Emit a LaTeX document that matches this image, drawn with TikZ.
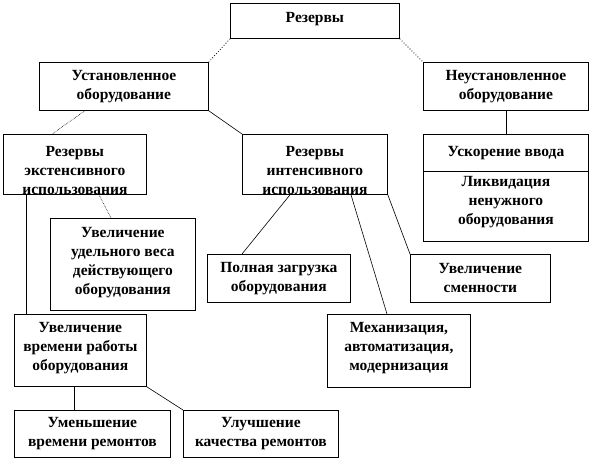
\documentclass[tikz,border=0pt]{standalone}
\usepackage{fontspec}
\setmainfont{Liberation Serif}
\usetikzlibrary{calc}
\begin{document}
\begin{tikzpicture}[x=1pt,y=-1pt,
  box/.style={draw, line width=0.8pt, anchor=north west, inner sep=0pt},
  txt/.style={align=center, font=\fontsize{15.5}{19}\selectfont\bfseries, inner sep=0pt},
  link/.style={line width=0.6pt},
  dotlink/.style={line width=0.8pt, dotted},
  ddlink/.style={line width=0.6pt, densely dotted}]
\useasboundingbox (0,0) rectangle (594,461);
% boxes
\node[box, minimum width=169pt, minimum height=35pt] (rez) at (230,3) {};
\node[box, minimum width=169pt, minimum height=48pt] (ust) at (39,62) {};
\node[box, minimum width=165pt, minimum height=48pt] (neust) at (423,62) {};
\node[box, minimum width=143pt, minimum height=60pt] (ext) at (3,134) {};
\node[box, minimum width=145pt, minimum height=60pt] (int) at (242,134) {};
\node[box, minimum width=165pt, minimum height=37pt] (usk) at (423,134) {};
\node[box, minimum width=165pt, minimum height=70pt] (likv) at (423,171) {};
\node[box, minimum width=145pt, minimum height=92pt] (ud) at (50,218) {};
\node[box, minimum width=143pt, minimum height=48pt] (pol) at (207,254) {};
\node[box, minimum width=140pt, minimum height=48pt] (smen) at (410,254) {};
\node[box, minimum width=143pt, minimum height=73pt] (mech) at (327,314) {};
\node[box, minimum width=132pt, minimum height=72pt] (uvr) at (14,314) {};
\node[box, minimum width=156pt, minimum height=47pt] (umen) at (14,410) {};
\node[box, minimum width=155pt, minimum height=47pt] (ulu) at (183,410) {};
% texts
\node[txt] (rez-t) at ([yshift=2pt]rez.center) {Резервы};
\node[txt] (ust-t) at (ust.center) {Установленное\\оборудование};
\node[txt] (neust-t) at (neust.center) {Неустановленное\\оборудование};
\begin{scope}
  \clip (ext.north west) rectangle (ext.south east);
  \node[txt] (ext-t) at ([yshift=-6.5pt]ext.center) {Резервы\\экстенсивного\\использования};
\end{scope}
\begin{scope}
  \clip (int.north west) rectangle (int.south east);
  \node[txt] (int-t) at ([yshift=-6.5pt]int.center) {Резервы\\интенсивного\\использования};
\end{scope}
\node[txt] (usk-t) at (usk.center) {Ускорение ввода};
\node[txt] (likv-t) at ([yshift=4pt]likv.center) {Ликвидация\\ненужного\\оборудования};
\node[txt] (ud-t) at ([yshift=2pt]ud.center) {Увеличение\\удельного веса\\действующего\\оборудования};
\node[txt] (pol-t) at (pol.center) {Полная загрузка\\оборудования};
\node[txt] (smen-t) at (smen.center) {Увеличение\\сменности};
\node[txt] (mech-t) at ([yshift=3pt]mech.center) {Механизация,\\автоматизация,\\модернизация};
\node[txt] (uvr-t) at ([yshift=2pt]uvr.center) {Увеличение\\времени работы\\оборудования};
\node[txt] (umen-t) at (umen.center) {Уменьшение\\времени ремонтов};
\node[txt] (ulu-t) at (ulu.center) {Улучшение\\качества ремонтов};
% connectors
\draw[dotlink] (rez.south west) -- (ust.north east);
\draw[dotlink] (rez.south east) -- (neust.north west);
\draw[ddlink] ($(ust.south west)+(46,0)$) -- ($(ext.north west)+(49,0)$);
\draw[link] (ust.south east) -- (int.north west);
\draw[link] (neust.south) -- (usk.north);
\draw[ddlink] ($(ext.south west)+(96,0)$) -- ($(ud.north west)+(61,0)$);
\draw[link] ($(ext.south west)+(23,0)$) -- ($(uvr.north west)+(12,0)$);
\draw[link] ($(int.south west)+(48,0)$) -- ($(pol.north west)+(35,0)$);
\draw[link] ($(int.south west)+(109,0)$) -- ($(mech.north west)+(60,0)$);
\draw[link] (int.south east) -- (smen.north west);
\draw[link] ($(uvr.south west)+(60,0)$) -- ($(umen.north west)+(60,0)$);
\draw[link] (uvr.south east) -- (ulu.north west);
\end{tikzpicture}
\end{document}
